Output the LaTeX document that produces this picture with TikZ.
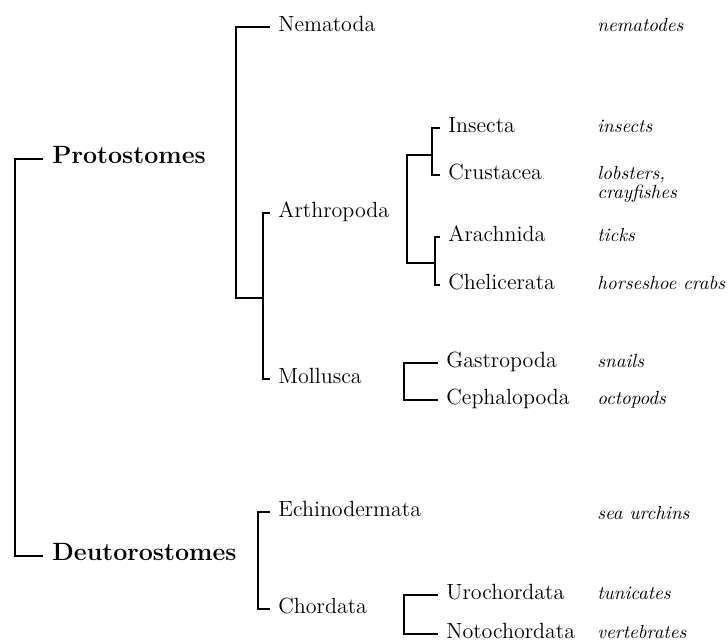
\documentclass[tikz,border=0pt]{standalone}
\usetikzlibrary{calc, positioning}

\begin{document}
\begin{tikzpicture}[
  x=0.5pt, y=-0.5pt,
  branch/.style={line width=1pt, line join=miter},
  group/.style={font=\fontsize{12.5}{14}\selectfont\bfseries, inner sep=0pt, inner xsep=4.5pt},
  taxon/.style={font=\fontsize{11}{13}\selectfont, inner sep=0pt, inner xsep=4pt},
  common/.style={font=\fontsize{9.5}{9.5}\selectfont\itshape, inner sep=0pt, align=left},
]
  \useasboundingbox (0,0) rectangle (728,643);

  % main groups
  \node[group, anchor=mid west] (proto) at (43,159) {Protostomes};
  \node[group, anchor=mid west] (deut) at (43,556) {Deutorostomes};
  \coordinate (root) at (15,350);

  % protostomes
  \node[taxon, anchor=mid west] (nema) at (270,27) {Nematoda};
  \node[taxon, anchor=mid west] (arth) at (270,213) {Arthropoda};
  \node[taxon, anchor=mid west] (moll) at (270,379) {Mollusca};
  \node[taxon, anchor=mid west] (ins) at (440,128) {Insecta};
  \node[taxon, anchor=mid west] (crus) at (440,175) {Crustacea};
  \node[taxon, anchor=mid west] (arach) at (440,237) {Arachnida};
  \node[taxon, anchor=mid west] (chel) at (440,285) {Chelicerata};
  \node[taxon, anchor=mid west] (gast) at (438,363) {Gastropoda};
  \node[taxon, anchor=mid west] (ceph) at (438,400) {Cephalopoda};
  \coordinate (protoB) at (236,298);
  \coordinate (amJ) at (263,298);
  \coordinate (arthT) at (407,155);
  \coordinate (arthB) at (407,263);
  \coordinate (icJ) at (432,155);
  \coordinate (acJ) at (435,263);
  \coordinate (mollB) at (404,381);

  % deutorostomes
  \node[taxon, anchor=mid west] (echi) at (270,512) {Echinodermata};
  \node[taxon, anchor=mid west] (chor) at (270,609) {Chordata};
  \node[taxon, anchor=mid west] (uro) at (438,595) {Urochordata};
  \node[taxon, anchor=mid west] (noto) at (438,634) {Notochordata};
  \coordinate (deutB) at (258,560);
  \coordinate (chorB) at (404,614);

  % common names
  \node[common, anchor=mid west] (c-nema) at (597,27) {nematodes};
  \node[common, anchor=mid west] (c-ins) at (597,128) {insects};
  \node[common, anchor=north west] (c-crus) at (597,166) {lobsters,\\crayfishes};
  \node[common, anchor=mid west] (c-arach) at (597,237) {ticks};
  \node[common, anchor=mid west] (c-chel) at (597,285) {horseshoe crabs};
  \node[common, anchor=mid west] (c-gast) at (597,363) {snails};
  \node[common, anchor=mid west] (c-ceph) at (597,400) {octopods};
  \node[common, anchor=mid west] (c-echi) at (597,515) {sea urchins};
  \node[common, anchor=mid west] (c-uro) at (597,595) {tunicates};
  \node[common, anchor=mid west] (c-noto) at (597,634) {vertebrates};

  % brackets
  \draw[branch] (proto.mid west) -| (root) |- (deut.mid west);
  \draw[branch] (nema.mid west) -| (protoB) -- (amJ);
  \draw[branch] (arth.mid west) -| (amJ) |- (moll.mid west);
  \draw[branch] (icJ) -- (arthT) -- (arthB) -- (acJ);
  \draw[branch] (ins.mid west) -| (icJ) |- (crus.mid west);
  \draw[branch] (arach.mid west) -| (acJ) |- (chel.mid west);
  \draw[branch] (gast.mid west) -| (mollB) |- (ceph.mid west);
  \draw[branch] (echi.mid west) -| (deutB) |- (chor.mid west);
  \draw[branch] (uro.mid west) -| (chorB) |- (noto.mid west);
\end{tikzpicture}
\end{document}
